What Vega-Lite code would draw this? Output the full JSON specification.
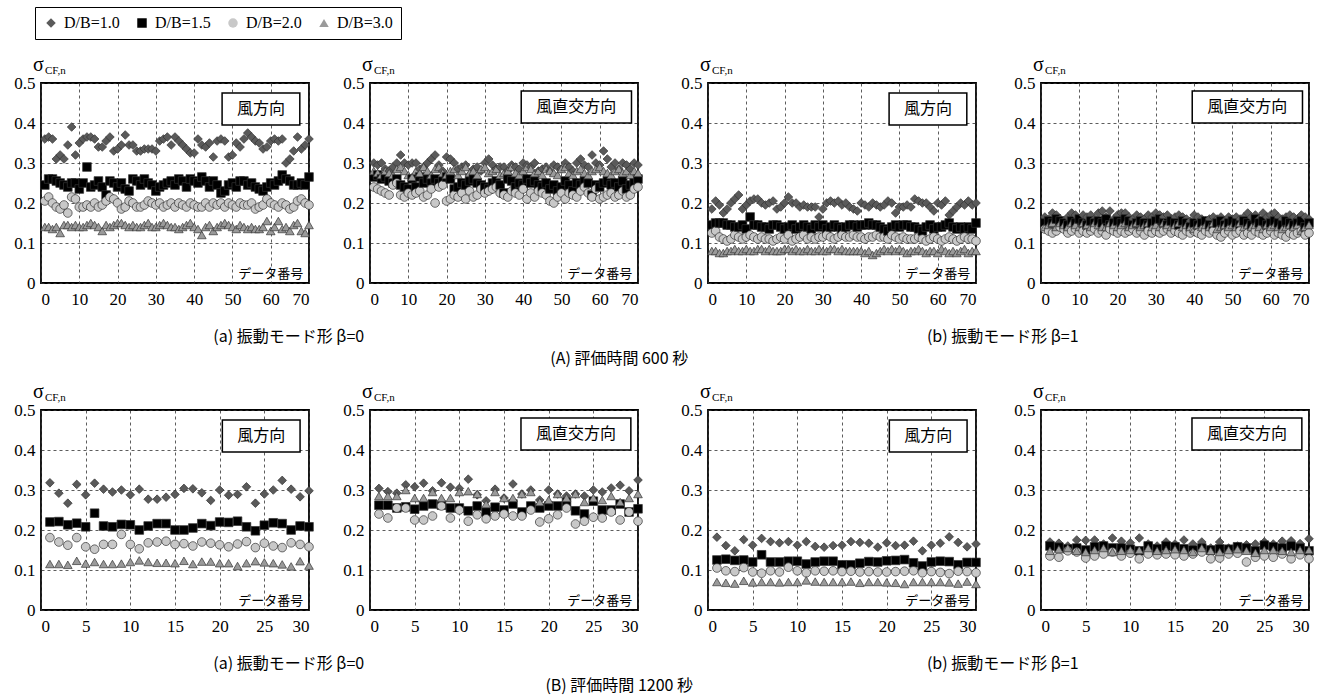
{
"$schema":"https://vega.github.io/schema/vega-lite/v6.json",
"padding":{"left":12,"top":6,"right":5,"bottom":2},
"background":"white",
"datasets":{
"A1":[
{"x":1,"a":0.36,"b":0.245,"c":0.205,"d":0.14},{"x":2,"a":0.365,"b":0.26,"c":0.215,"d":0.14},{"x":3,"a":0.36,"b":0.26,"c":0.2,"d":0.135},{"x":4,"a":0.31,"b":0.255,"c":0.19,"d":0.14},{"x":5,"a":0.32,"b":0.25,"c":0.185,"d":0.125},{"x":6,"a":0.31,"b":0.245,"c":0.195,"d":0.145},{"x":7,"a":0.345,"b":0.24,"c":0.175,"d":0.145},{"x":8,"a":0.39,"b":0.25,"c":0.215,"d":0.14},{"x":9,"a":0.32,"b":0.25,"c":0.21,"d":0.145},{"x":10,"a":0.35,"b":0.235,"c":0.19,"d":0.14},
{"x":11,"a":0.36,"b":0.25,"c":0.19,"d":0.14},{"x":12,"a":0.365,"b":0.29,"c":0.195,"d":0.145},{"x":13,"a":0.365,"b":0.24,"c":0.19,"d":0.15},{"x":14,"a":0.36,"b":0.245,"c":0.2,"d":0.145},{"x":15,"a":0.34,"b":0.255,"c":0.19,"d":0.14},{"x":16,"a":0.34,"b":0.24,"c":0.195,"d":0.13},{"x":17,"a":0.355,"b":0.22,"c":0.205,"d":0.145},{"x":18,"a":0.365,"b":0.255,"c":0.215,"d":0.14},{"x":19,"a":0.33,"b":0.25,"c":0.21,"d":0.145},{"x":20,"a":0.335,"b":0.24,"c":0.2,"d":0.15},
{"x":21,"a":0.345,"b":0.25,"c":0.185,"d":0.15},{"x":22,"a":0.37,"b":0.235,"c":0.19,"d":0.145},{"x":23,"a":0.345,"b":0.23,"c":0.205,"d":0.14},{"x":24,"a":0.345,"b":0.26,"c":0.2,"d":0.145},{"x":25,"a":0.33,"b":0.255,"c":0.19,"d":0.14},{"x":26,"a":0.33,"b":0.245,"c":0.19,"d":0.14},{"x":27,"a":0.335,"b":0.26,"c":0.195,"d":0.145},{"x":28,"a":0.335,"b":0.25,"c":0.205,"d":0.15},{"x":29,"a":0.335,"b":0.245,"c":0.2,"d":0.14},{"x":30,"a":0.33,"b":0.23,"c":0.195,"d":0.14},
{"x":31,"a":0.355,"b":0.24,"c":0.2,"d":0.145},{"x":32,"a":0.36,"b":0.245,"c":0.19,"d":0.15},{"x":33,"a":0.365,"b":0.25,"c":0.195,"d":0.145},{"x":34,"a":0.345,"b":0.255,"c":0.2,"d":0.14},{"x":35,"a":0.365,"b":0.245,"c":0.19,"d":0.14},{"x":36,"a":0.355,"b":0.26,"c":0.2,"d":0.135},{"x":37,"a":0.345,"b":0.255,"c":0.195,"d":0.14},{"x":38,"a":0.335,"b":0.24,"c":0.19,"d":0.145},{"x":39,"a":0.325,"b":0.26,"c":0.2,"d":0.15},{"x":40,"a":0.325,"b":0.255,"c":0.195,"d":0.14},
{"x":41,"a":0.36,"b":0.25,"c":0.19,"d":0.135},{"x":42,"a":0.345,"b":0.265,"c":0.19,"d":0.12},{"x":43,"a":0.34,"b":0.255,"c":0.2,"d":0.14},{"x":44,"a":0.35,"b":0.24,"c":0.19,"d":0.145},{"x":45,"a":0.315,"b":0.255,"c":0.2,"d":0.13},{"x":46,"a":0.355,"b":0.245,"c":0.195,"d":0.14},{"x":47,"a":0.36,"b":0.225,"c":0.2,"d":0.145},{"x":48,"a":0.355,"b":0.23,"c":0.19,"d":0.15},{"x":49,"a":0.315,"b":0.245,"c":0.2,"d":0.145},{"x":50,"a":0.32,"b":0.25,"c":0.195,"d":0.14},
{"x":51,"a":0.35,"b":0.24,"c":0.19,"d":0.135},{"x":52,"a":0.34,"b":0.255,"c":0.2,"d":0.145},{"x":53,"a":0.36,"b":0.255,"c":0.195,"d":0.14},{"x":54,"a":0.375,"b":0.245,"c":0.195,"d":0.135},{"x":55,"a":0.365,"b":0.25,"c":0.2,"d":0.14},{"x":56,"a":0.355,"b":0.24,"c":0.185,"d":0.135},{"x":57,"a":0.35,"b":0.235,"c":0.19,"d":0.135},{"x":58,"a":0.335,"b":0.23,"c":0.195,"d":0.14},{"x":59,"a":0.34,"b":0.24,"c":0.21,"d":0.155},{"x":60,"a":0.355,"b":0.25,"c":0.2,"d":0.13},
{"x":61,"a":0.36,"b":0.245,"c":0.195,"d":0.14},{"x":62,"a":0.355,"b":0.255,"c":0.19,"d":0.155},{"x":63,"a":0.36,"b":0.27,"c":0.2,"d":0.135},{"x":64,"a":0.3,"b":0.26,"c":0.195,"d":0.14},{"x":65,"a":0.31,"b":0.255,"c":0.185,"d":0.13},{"x":66,"a":0.33,"b":0.245,"c":0.19,"d":0.145},{"x":67,"a":0.365,"b":0.245,"c":0.205,"d":0.15},{"x":68,"a":0.335,"b":0.25,"c":0.21,"d":0.13},{"x":69,"a":0.345,"b":0.245,"c":0.2,"d":0.125},{"x":70,"a":0.36,"b":0.265,"c":0.195,"d":0.145}
],
"A2":[
{"x":1,"a":0.3,"b":0.265,"c":0.24,"d":0.28},{"x":2,"a":0.295,"b":0.27,"c":0.235,"d":0.275},{"x":3,"a":0.3,"b":0.26,"c":0.23,"d":0.27},{"x":4,"a":0.285,"b":0.265,"c":0.225,"d":0.28},{"x":5,"a":0.28,"b":0.255,"c":0.22,"d":0.275},{"x":6,"a":0.29,"b":0.25,"c":0.245,"d":0.27},{"x":7,"a":0.3,"b":0.26,"c":0.25,"d":0.285},{"x":8,"a":0.32,"b":0.245,"c":0.22,"d":0.29},{"x":9,"a":0.3,"b":0.24,"c":0.215,"d":0.28},{"x":10,"a":0.295,"b":0.235,"c":0.225,"d":0.27},
{"x":11,"a":0.3,"b":0.26,"c":0.22,"d":0.265},{"x":12,"a":0.3,"b":0.24,"c":0.225,"d":0.28},{"x":13,"a":0.285,"b":0.265,"c":0.23,"d":0.275},{"x":14,"a":0.29,"b":0.25,"c":0.215,"d":0.29},{"x":15,"a":0.3,"b":0.26,"c":0.22,"d":0.28},{"x":16,"a":0.31,"b":0.255,"c":0.235,"d":0.27},{"x":17,"a":0.32,"b":0.26,"c":0.2,"d":0.285},{"x":18,"a":0.295,"b":0.25,"c":0.24,"d":0.29},{"x":19,"a":0.28,"b":0.255,"c":0.245,"d":0.275},{"x":20,"a":0.315,"b":0.265,"c":0.205,"d":0.27},
{"x":21,"a":0.31,"b":0.26,"c":0.21,"d":0.28},{"x":22,"a":0.3,"b":0.235,"c":0.22,"d":0.285},{"x":23,"a":0.285,"b":0.24,"c":0.215,"d":0.27},{"x":24,"a":0.29,"b":0.25,"c":0.225,"d":0.28},{"x":25,"a":0.295,"b":0.245,"c":0.21,"d":0.29},{"x":26,"a":0.27,"b":0.255,"c":0.23,"d":0.275},{"x":27,"a":0.285,"b":0.26,"c":0.215,"d":0.28},{"x":28,"a":0.29,"b":0.25,"c":0.22,"d":0.27},{"x":29,"a":0.28,"b":0.245,"c":0.235,"d":0.285},{"x":30,"a":0.3,"b":0.24,"c":0.225,"d":0.29},
{"x":31,"a":0.31,"b":0.235,"c":0.23,"d":0.275},{"x":32,"a":0.295,"b":0.25,"c":0.235,"d":0.28},{"x":33,"a":0.285,"b":0.255,"c":0.24,"d":0.285},{"x":34,"a":0.29,"b":0.245,"c":0.225,"d":0.27},{"x":35,"a":0.29,"b":0.225,"c":0.22,"d":0.275},{"x":36,"a":0.28,"b":0.26,"c":0.215,"d":0.28},{"x":37,"a":0.295,"b":0.255,"c":0.23,"d":0.29},{"x":38,"a":0.29,"b":0.24,"c":0.225,"d":0.275},{"x":39,"a":0.285,"b":0.25,"c":0.22,"d":0.27},{"x":40,"a":0.3,"b":0.245,"c":0.235,"d":0.28},
{"x":41,"a":0.295,"b":0.26,"c":0.21,"d":0.29},{"x":42,"a":0.29,"b":0.25,"c":0.225,"d":0.285},{"x":43,"a":0.3,"b":0.255,"c":0.215,"d":0.275},{"x":44,"a":0.28,"b":0.245,"c":0.23,"d":0.28},{"x":45,"a":0.285,"b":0.24,"c":0.225,"d":0.27},{"x":46,"a":0.29,"b":0.25,"c":0.22,"d":0.285},{"x":47,"a":0.28,"b":0.235,"c":0.205,"d":0.28},{"x":48,"a":0.295,"b":0.245,"c":0.2,"d":0.275},{"x":49,"a":0.29,"b":0.23,"c":0.215,"d":0.27},{"x":50,"a":0.285,"b":0.24,"c":0.225,"d":0.285},
{"x":51,"a":0.3,"b":0.255,"c":0.21,"d":0.29},{"x":52,"a":0.29,"b":0.245,"c":0.225,"d":0.275},{"x":53,"a":0.28,"b":0.23,"c":0.22,"d":0.27},{"x":54,"a":0.3,"b":0.25,"c":0.215,"d":0.28},{"x":55,"a":0.31,"b":0.245,"c":0.23,"d":0.285},{"x":56,"a":0.295,"b":0.255,"c":0.24,"d":0.275},{"x":57,"a":0.29,"b":0.25,"c":0.225,"d":0.27},{"x":58,"a":0.32,"b":0.22,"c":0.215,"d":0.28},{"x":59,"a":0.3,"b":0.245,"c":0.235,"d":0.285},{"x":60,"a":0.295,"b":0.24,"c":0.21,"d":0.29},
{"x":61,"a":0.33,"b":0.25,"c":0.215,"d":0.28},{"x":62,"a":0.31,"b":0.255,"c":0.22,"d":0.275},{"x":63,"a":0.29,"b":0.245,"c":0.225,"d":0.27},{"x":64,"a":0.3,"b":0.25,"c":0.215,"d":0.28},{"x":65,"a":0.285,"b":0.24,"c":0.22,"d":0.285},{"x":66,"a":0.3,"b":0.255,"c":0.23,"d":0.275},{"x":67,"a":0.295,"b":0.235,"c":0.215,"d":0.28},{"x":68,"a":0.285,"b":0.245,"c":0.22,"d":0.27},{"x":69,"a":0.3,"b":0.25,"c":0.235,"d":0.28},{"x":70,"a":0.295,"b":0.26,"c":0.24,"d":0.275}
],
"A3":[
{"x":1,"a":0.185,"b":0.145,"c":0.125,"d":0.08},{"x":2,"a":0.205,"b":0.15,"c":0.13,"d":0.08},{"x":3,"a":0.195,"b":0.15,"c":0.115,"d":0.075},{"x":4,"a":0.175,"b":0.15,"c":0.11,"d":0.075},{"x":5,"a":0.185,"b":0.145,"c":0.105,"d":0.08},{"x":6,"a":0.2,"b":0.145,"c":0.11,"d":0.08},{"x":7,"a":0.21,"b":0.14,"c":0.12,"d":0.085},{"x":8,"a":0.22,"b":0.14,"c":0.115,"d":0.08},{"x":9,"a":0.185,"b":0.145,"c":0.11,"d":0.08},{"x":10,"a":0.195,"b":0.135,"c":0.115,"d":0.085},
{"x":11,"a":0.205,"b":0.165,"c":0.12,"d":0.08},{"x":12,"a":0.21,"b":0.145,"c":0.115,"d":0.08},{"x":13,"a":0.21,"b":0.145,"c":0.11,"d":0.085},{"x":14,"a":0.2,"b":0.14,"c":0.115,"d":0.085},{"x":15,"a":0.195,"b":0.14,"c":0.11,"d":0.08},{"x":16,"a":0.2,"b":0.135,"c":0.11,"d":0.085},{"x":17,"a":0.205,"b":0.145,"c":0.105,"d":0.08},{"x":18,"a":0.185,"b":0.145,"c":0.11,"d":0.08},{"x":19,"a":0.19,"b":0.14,"c":0.115,"d":0.08},{"x":20,"a":0.2,"b":0.135,"c":0.11,"d":0.085},
{"x":21,"a":0.215,"b":0.14,"c":0.12,"d":0.085},{"x":22,"a":0.2,"b":0.145,"c":0.105,"d":0.08},{"x":23,"a":0.2,"b":0.135,"c":0.11,"d":0.085},{"x":24,"a":0.19,"b":0.14,"c":0.115,"d":0.08},{"x":25,"a":0.195,"b":0.145,"c":0.12,"d":0.08},{"x":26,"a":0.19,"b":0.14,"c":0.11,"d":0.085},{"x":27,"a":0.19,"b":0.135,"c":0.115,"d":0.08},{"x":28,"a":0.19,"b":0.145,"c":0.11,"d":0.08},{"x":29,"a":0.165,"b":0.14,"c":0.115,"d":0.085},{"x":30,"a":0.185,"b":0.145,"c":0.115,"d":0.08},
{"x":31,"a":0.2,"b":0.135,"c":0.12,"d":0.08},{"x":32,"a":0.205,"b":0.14,"c":0.115,"d":0.085},{"x":33,"a":0.2,"b":0.145,"c":0.11,"d":0.085},{"x":34,"a":0.205,"b":0.14,"c":0.115,"d":0.08},{"x":35,"a":0.195,"b":0.135,"c":0.12,"d":0.085},{"x":36,"a":0.2,"b":0.14,"c":0.115,"d":0.08},{"x":37,"a":0.19,"b":0.145,"c":0.115,"d":0.08},{"x":38,"a":0.185,"b":0.145,"c":0.12,"d":0.08},{"x":39,"a":0.18,"b":0.14,"c":0.115,"d":0.08},{"x":40,"a":0.2,"b":0.145,"c":0.115,"d":0.08},
{"x":41,"a":0.195,"b":0.145,"c":0.11,"d":0.075},{"x":42,"a":0.19,"b":0.15,"c":0.115,"d":0.08},{"x":43,"a":0.2,"b":0.145,"c":0.115,"d":0.07},{"x":44,"a":0.195,"b":0.145,"c":0.12,"d":0.075},{"x":45,"a":0.19,"b":0.14,"c":0.115,"d":0.08},{"x":46,"a":0.195,"b":0.135,"c":0.115,"d":0.085},{"x":47,"a":0.205,"b":0.13,"c":0.11,"d":0.08},{"x":48,"a":0.2,"b":0.14,"c":0.12,"d":0.085},{"x":49,"a":0.175,"b":0.145,"c":0.115,"d":0.08},{"x":50,"a":0.19,"b":0.14,"c":0.11,"d":0.085},
{"x":51,"a":0.19,"b":0.145,"c":0.115,"d":0.08},{"x":52,"a":0.195,"b":0.145,"c":0.11,"d":0.075},{"x":53,"a":0.19,"b":0.14,"c":0.11,"d":0.08},{"x":54,"a":0.21,"b":0.14,"c":0.11,"d":0.08},{"x":55,"a":0.205,"b":0.135,"c":0.115,"d":0.085},{"x":56,"a":0.2,"b":0.13,"c":0.11,"d":0.08},{"x":57,"a":0.2,"b":0.14,"c":0.105,"d":0.075},{"x":58,"a":0.19,"b":0.145,"c":0.11,"d":0.08},{"x":59,"a":0.18,"b":0.135,"c":0.115,"d":0.08},{"x":60,"a":0.2,"b":0.14,"c":0.11,"d":0.075},
{"x":61,"a":0.195,"b":0.14,"c":0.105,"d":0.085},{"x":62,"a":0.205,"b":0.145,"c":0.11,"d":0.08},{"x":63,"a":0.17,"b":0.15,"c":0.115,"d":0.075},{"x":64,"a":0.18,"b":0.14,"c":0.11,"d":0.08},{"x":65,"a":0.19,"b":0.135,"c":0.105,"d":0.075},{"x":66,"a":0.2,"b":0.14,"c":0.11,"d":0.08},{"x":67,"a":0.195,"b":0.135,"c":0.115,"d":0.085},{"x":68,"a":0.205,"b":0.14,"c":0.11,"d":0.075},{"x":69,"a":0.195,"b":0.135,"c":0.11,"d":0.08},{"x":70,"a":0.2,"b":0.15,"c":0.105,"d":0.08}
],
"A4":[
{"x":1,"a":0.165,"b":0.15,"c":0.135,"d":0.14},{"x":2,"a":0.16,"b":0.155,"c":0.13,"d":0.145},{"x":3,"a":0.175,"b":0.15,"c":0.125,"d":0.15},{"x":4,"a":0.17,"b":0.16,"c":0.13,"d":0.14},{"x":5,"a":0.16,"b":0.155,"c":0.14,"d":0.15},{"x":6,"a":0.155,"b":0.15,"c":0.135,"d":0.145},{"x":7,"a":0.165,"b":0.145,"c":0.125,"d":0.14},{"x":8,"a":0.175,"b":0.155,"c":0.13,"d":0.15},{"x":9,"a":0.17,"b":0.15,"c":0.135,"d":0.145},{"x":10,"a":0.16,"b":0.16,"c":0.125,"d":0.14},
{"x":11,"a":0.17,"b":0.15,"c":0.13,"d":0.15},{"x":12,"a":0.165,"b":0.145,"c":0.125,"d":0.145},{"x":13,"a":0.17,"b":0.155,"c":0.13,"d":0.14},{"x":14,"a":0.16,"b":0.15,"c":0.135,"d":0.15},{"x":15,"a":0.175,"b":0.155,"c":0.125,"d":0.145},{"x":16,"a":0.18,"b":0.15,"c":0.13,"d":0.14},{"x":17,"a":0.165,"b":0.16,"c":0.12,"d":0.14},{"x":18,"a":0.18,"b":0.145,"c":0.135,"d":0.15},{"x":19,"a":0.16,"b":0.15,"c":0.13,"d":0.145},{"x":20,"a":0.17,"b":0.155,"c":0.125,"d":0.14},
{"x":21,"a":0.175,"b":0.15,"c":0.13,"d":0.145},{"x":22,"a":0.175,"b":0.16,"c":0.125,"d":0.15},{"x":23,"a":0.165,"b":0.155,"c":0.13,"d":0.14},{"x":24,"a":0.16,"b":0.145,"c":0.135,"d":0.145},{"x":25,"a":0.17,"b":0.15,"c":0.125,"d":0.15},{"x":26,"a":0.165,"b":0.155,"c":0.13,"d":0.14},{"x":27,"a":0.16,"b":0.15,"c":0.12,"d":0.145},{"x":28,"a":0.17,"b":0.145,"c":0.13,"d":0.15},{"x":29,"a":0.165,"b":0.15,"c":0.125,"d":0.14},{"x":30,"a":0.175,"b":0.155,"c":0.13,"d":0.145},
{"x":31,"a":0.17,"b":0.16,"c":0.125,"d":0.14},{"x":32,"a":0.165,"b":0.15,"c":0.13,"d":0.15},{"x":33,"a":0.17,"b":0.145,"c":0.135,"d":0.145},{"x":34,"a":0.16,"b":0.155,"c":0.125,"d":0.14},{"x":35,"a":0.165,"b":0.15,"c":0.13,"d":0.145},{"x":36,"a":0.17,"b":0.145,"c":0.125,"d":0.15},{"x":37,"a":0.165,"b":0.155,"c":0.12,"d":0.14},{"x":38,"a":0.16,"b":0.15,"c":0.13,"d":0.145},{"x":39,"a":0.155,"b":0.14,"c":0.125,"d":0.14},{"x":40,"a":0.17,"b":0.15,"c":0.13,"d":0.135},
{"x":41,"a":0.165,"b":0.145,"c":0.125,"d":0.145},{"x":42,"a":0.16,"b":0.15,"c":0.12,"d":0.14},{"x":43,"a":0.155,"b":0.155,"c":0.13,"d":0.145},{"x":44,"a":0.16,"b":0.145,"c":0.125,"d":0.14},{"x":45,"a":0.165,"b":0.14,"c":0.13,"d":0.15},{"x":46,"a":0.16,"b":0.15,"c":0.12,"d":0.135},{"x":47,"a":0.165,"b":0.155,"c":0.115,"d":0.14},{"x":48,"a":0.155,"b":0.145,"c":0.125,"d":0.145},{"x":49,"a":0.165,"b":0.15,"c":0.13,"d":0.14},{"x":50,"a":0.16,"b":0.155,"c":0.12,"d":0.145},
{"x":51,"a":0.165,"b":0.15,"c":0.125,"d":0.14},{"x":52,"a":0.16,"b":0.145,"c":0.13,"d":0.15},{"x":53,"a":0.165,"b":0.155,"c":0.12,"d":0.14},{"x":54,"a":0.175,"b":0.15,"c":0.125,"d":0.145},{"x":55,"a":0.165,"b":0.145,"c":0.12,"d":0.14},{"x":56,"a":0.17,"b":0.16,"c":0.13,"d":0.145},{"x":57,"a":0.16,"b":0.15,"c":0.125,"d":0.14},{"x":58,"a":0.175,"b":0.155,"c":0.12,"d":0.135},{"x":59,"a":0.165,"b":0.145,"c":0.125,"d":0.145},{"x":60,"a":0.17,"b":0.15,"c":0.13,"d":0.14},
{"x":61,"a":0.175,"b":0.155,"c":0.12,"d":0.145},{"x":62,"a":0.165,"b":0.15,"c":0.125,"d":0.14},{"x":63,"a":0.16,"b":0.145,"c":0.12,"d":0.135},{"x":64,"a":0.165,"b":0.155,"c":0.115,"d":0.14},{"x":65,"a":0.17,"b":0.15,"c":0.125,"d":0.145},{"x":66,"a":0.165,"b":0.145,"c":0.12,"d":0.14},{"x":67,"a":0.16,"b":0.15,"c":0.125,"d":0.145},{"x":68,"a":0.17,"b":0.155,"c":0.13,"d":0.13},{"x":69,"a":0.165,"b":0.14,"c":0.12,"d":0.14},{"x":70,"a":0.16,"b":0.15,"c":0.125,"d":0.145}
],
"B1":[
{"x":1,"a":0.318,"b":0.22,"c":0.181,"d":0.115},{"x":2,"a":0.292,"b":0.221,"c":0.17,"d":0.115},{"x":3,"a":0.267,"b":0.213,"c":0.162,"d":0.113},{"x":4,"a":0.314,"b":0.217,"c":0.181,"d":0.123},{"x":5,"a":0.288,"b":0.208,"c":0.158,"d":0.116},{"x":6,"a":0.317,"b":0.242,"c":0.152,"d":0.12},{"x":7,"a":0.302,"b":0.21,"c":0.164,"d":0.115},{"x":8,"a":0.295,"b":0.208,"c":0.164,"d":0.115},{"x":9,"a":0.3,"b":0.214,"c":0.189,"d":0.116},{"x":10,"a":0.288,"b":0.213,"c":0.164,"d":0.12},
{"x":11,"a":0.302,"b":0.2,"c":0.153,"d":0.124},{"x":12,"a":0.277,"b":0.21,"c":0.168,"d":0.12},{"x":13,"a":0.277,"b":0.216,"c":0.17,"d":0.118},{"x":14,"a":0.282,"b":0.216,"c":0.172,"d":0.118},{"x":15,"a":0.289,"b":0.2,"c":0.164,"d":0.117},{"x":16,"a":0.304,"b":0.2,"c":0.166,"d":0.123},{"x":17,"a":0.303,"b":0.205,"c":0.16,"d":0.115},{"x":18,"a":0.293,"b":0.216,"c":0.17,"d":0.121},{"x":19,"a":0.274,"b":0.211,"c":0.167,"d":0.121},{"x":20,"a":0.3,"b":0.22,"c":0.163,"d":0.117},
{"x":21,"a":0.287,"b":0.219,"c":0.158,"d":0.117},{"x":22,"a":0.289,"b":0.222,"c":0.165,"d":0.11},{"x":23,"a":0.308,"b":0.208,"c":0.171,"d":0.117},{"x":24,"a":0.267,"b":0.198,"c":0.156,"d":0.122},{"x":25,"a":0.29,"b":0.212,"c":0.167,"d":0.119},{"x":26,"a":0.3,"b":0.218,"c":0.16,"d":0.117},{"x":27,"a":0.324,"b":0.216,"c":0.156,"d":0.114},{"x":28,"a":0.302,"b":0.2,"c":0.168,"d":0.109},{"x":29,"a":0.283,"b":0.21,"c":0.164,"d":0.122},{"x":30,"a":0.298,"b":0.208,"c":0.158,"d":0.111}
],
"B2":[
{"x":1,"a":0.304,"b":0.262,"c":0.24,"d":0.285},{"x":2,"a":0.296,"b":0.262,"c":0.23,"d":0.285},{"x":3,"a":0.292,"b":0.255,"c":0.255,"d":0.285},{"x":4,"a":0.313,"b":0.258,"c":0.255,"d":0.3},{"x":5,"a":0.308,"b":0.252,"c":0.225,"d":0.28},{"x":6,"a":0.317,"b":0.26,"c":0.225,"d":0.28},{"x":7,"a":0.298,"b":0.265,"c":0.235,"d":0.295},{"x":8,"a":0.318,"b":0.262,"c":0.26,"d":0.28},{"x":9,"a":0.307,"b":0.255,"c":0.23,"d":0.28},{"x":10,"a":0.304,"b":0.255,"c":0.25,"d":0.295},
{"x":11,"a":0.327,"b":0.248,"c":0.222,"d":0.297},{"x":12,"a":0.288,"b":0.26,"c":0.238,"d":0.29},{"x":13,"a":0.273,"b":0.245,"c":0.228,"d":0.265},{"x":14,"a":0.302,"b":0.257,"c":0.235,"d":0.295},{"x":15,"a":0.28,"b":0.25,"c":0.24,"d":0.28},{"x":16,"a":0.315,"b":0.265,"c":0.235,"d":0.28},{"x":17,"a":0.29,"b":0.245,"c":0.235,"d":0.29},{"x":18,"a":0.3,"b":0.26,"c":0.25,"d":0.295},{"x":19,"a":0.275,"b":0.255,"c":0.22,"d":0.27},{"x":20,"a":0.3,"b":0.26,"c":0.228,"d":0.275},
{"x":21,"a":0.29,"b":0.26,"c":0.238,"d":0.29},{"x":22,"a":0.285,"b":0.27,"c":0.255,"d":0.28},{"x":23,"a":0.29,"b":0.248,"c":0.215,"d":0.29},{"x":24,"a":0.285,"b":0.24,"c":0.222,"d":0.27},{"x":25,"a":0.3,"b":0.272,"c":0.232,"d":0.28},{"x":26,"a":0.295,"b":0.25,"c":0.23,"d":0.275},{"x":27,"a":0.305,"b":0.25,"c":0.245,"d":0.285},{"x":28,"a":0.312,"b":0.265,"c":0.225,"d":0.27},{"x":29,"a":0.298,"b":0.245,"c":0.245,"d":0.28},{"x":30,"a":0.325,"b":0.253,"c":0.222,"d":0.29}
],
"B3":[
{"x":1,"a":0.182,"b":0.125,"c":0.105,"d":0.07},{"x":2,"a":0.161,"b":0.127,"c":0.098,"d":0.068},{"x":3,"a":0.148,"b":0.124,"c":0.096,"d":0.066},{"x":4,"a":0.176,"b":0.125,"c":0.106,"d":0.073},{"x":5,"a":0.162,"b":0.12,"c":0.095,"d":0.069},{"x":6,"a":0.179,"b":0.138,"c":0.092,"d":0.07},{"x":7,"a":0.171,"b":0.12,"c":0.098,"d":0.07},{"x":8,"a":0.168,"b":0.12,"c":0.095,"d":0.069},{"x":9,"a":0.171,"b":0.122,"c":0.107,"d":0.07},{"x":10,"a":0.162,"b":0.122,"c":0.098,"d":0.07},
{"x":11,"a":0.171,"b":0.115,"c":0.093,"d":0.074},{"x":12,"a":0.159,"b":0.12,"c":0.098,"d":0.071},{"x":13,"a":0.157,"b":0.122,"c":0.097,"d":0.07},{"x":14,"a":0.161,"b":0.122,"c":0.098,"d":0.07},{"x":15,"a":0.162,"b":0.113,"c":0.096,"d":0.07},{"x":16,"a":0.171,"b":0.113,"c":0.097,"d":0.071},{"x":17,"a":0.169,"b":0.117,"c":0.095,"d":0.068},{"x":18,"a":0.167,"b":0.121,"c":0.096,"d":0.07},{"x":19,"a":0.157,"b":0.12,"c":0.095,"d":0.07},{"x":20,"a":0.168,"b":0.123,"c":0.095,"d":0.069},
{"x":21,"a":0.161,"b":0.124,"c":0.096,"d":0.068},{"x":22,"a":0.162,"b":0.126,"c":0.097,"d":0.065},{"x":23,"a":0.172,"b":0.118,"c":0.098,"d":0.07},{"x":24,"a":0.148,"b":0.11,"c":0.093,"d":0.07},{"x":25,"a":0.162,"b":0.12,"c":0.096,"d":0.07},{"x":26,"a":0.167,"b":0.122,"c":0.094,"d":0.07},{"x":27,"a":0.183,"b":0.121,"c":0.091,"d":0.069},{"x":28,"a":0.169,"b":0.113,"c":0.097,"d":0.066},{"x":29,"a":0.158,"b":0.119,"c":0.096,"d":0.071},{"x":30,"a":0.165,"b":0.119,"c":0.093,"d":0.065}
],
"B4":[
{"x":1,"a":0.17,"b":0.16,"c":0.135,"d":0.148},{"x":2,"a":0.167,"b":0.157,"c":0.132,"d":0.152},{"x":3,"a":0.16,"b":0.153,"c":0.148,"d":0.155},{"x":4,"a":0.175,"b":0.155,"c":0.145,"d":0.148},{"x":5,"a":0.174,"b":0.15,"c":0.13,"d":0.145},{"x":6,"a":0.175,"b":0.158,"c":0.135,"d":0.15},{"x":7,"a":0.165,"b":0.16,"c":0.14,"d":0.155},{"x":8,"a":0.18,"b":0.155,"c":0.145,"d":0.145},{"x":9,"a":0.172,"b":0.155,"c":0.135,"d":0.148},{"x":10,"a":0.168,"b":0.152,"c":0.142,"d":0.15},
{"x":11,"a":0.18,"b":0.148,"c":0.128,"d":0.15},{"x":12,"a":0.165,"b":0.16,"c":0.14,"d":0.155},{"x":13,"a":0.16,"b":0.153,"c":0.138,"d":0.148},{"x":14,"a":0.17,"b":0.16,"c":0.14,"d":0.15},{"x":15,"a":0.165,"b":0.158,"c":0.138,"d":0.152},{"x":16,"a":0.175,"b":0.153,"c":0.135,"d":0.15},{"x":17,"a":0.165,"b":0.15,"c":0.14,"d":0.145},{"x":18,"a":0.17,"b":0.155,"c":0.145,"d":0.155},{"x":19,"a":0.155,"b":0.15,"c":0.128,"d":0.148},{"x":20,"a":0.17,"b":0.153,"c":0.13,"d":0.145},
{"x":21,"a":0.155,"b":0.152,"c":0.14,"d":0.15},{"x":22,"a":0.16,"b":0.158,"c":0.142,"d":0.152},{"x":23,"a":0.163,"b":0.155,"c":0.12,"d":0.148},{"x":24,"a":0.165,"b":0.148,"c":0.132,"d":0.143},{"x":25,"a":0.17,"b":0.162,"c":0.135,"d":0.15},{"x":26,"a":0.165,"b":0.158,"c":0.132,"d":0.15},{"x":27,"a":0.172,"b":0.155,"c":0.14,"d":0.148},{"x":28,"a":0.173,"b":0.16,"c":0.128,"d":0.145},{"x":29,"a":0.166,"b":0.155,"c":0.138,"d":0.15},{"x":30,"a":0.178,"b":0.148,"c":0.128,"d":0.15}
]
},
"vconcat":[
{"hconcat":[
 {"hconcat":[
  {"width":268,"height":200,"data":{"name":"A1"},"layer":[
   {"transform":[{"fold":["a","b","c","d"],"as":["s","y"]}],"mark":{"type":"point","filled":true,"size":75,"stroke":"#333","strokeWidth":0.7,"opacity":1},"encoding":{"x":{"field":"x","type":"quantitative","scale":{"domain":[0,70],"nice":false},"axis":{"title":null,"values":[0,10,20,30,40,50,60,70]}},"y":{"field":"y","type":"quantitative","scale":{"domain":[0,0.5],"nice":false},"axis":{"title":null,"values":[0,0.1,0.2,0.3,0.4,0.5],"format":".1~f"}},"shape":{"field":"s","type":"nominal","legend":{"title":null,"labelExpr":"datum.label=='a'?'D/B=1.0':datum.label=='b'?'D/B=1.5':datum.label=='c'?'D/B=2.0':'D/B=3.0'"}},"fill":{"field":"s","type":"nominal","legend":{"title":null,"labelExpr":"datum.label=='a'?'D/B=1.0':datum.label=='b'?'D/B=1.5':datum.label=='c'?'D/B=2.0':'D/B=3.0'"}}}},
   {"data":{"values":[{}]},"mark":{"type":"rect","fill":"white","stroke":"black","strokeWidth":1.5},"encoding":{"x":{"datum":47.3,"type":"quantitative","axis":{"title":null,"values":[0,10,20,30,40,50,60,70]}},"x2":{"datum":67.6},"y":{"datum":0.475,"type":"quantitative","axis":{"title":null,"values":[0,0.1,0.2,0.3,0.4,0.5],"format":".1~f"}},"y2":{"datum":0.395}}},
   {"data":{"values":[{}]},"mark":{"type":"text","text":"風方向","font":"Noto Sans CJK JP","fontSize":16},"encoding":{"x":{"datum":57.45,"type":"quantitative","axis":{"title":null,"values":[0,10,20,30,40,50,60,70]}},"y":{"datum":0.435,"type":"quantitative","axis":{"title":null,"values":[0,0.1,0.2,0.3,0.4,0.5],"format":".1~f"}}}},
   {"data":{"values":[{}]},"mark":{"type":"text","text":"データ番号","font":"Noto Sans CJK JP","fontSize":13,"align":"right","baseline":"bottom","dy":-2},"encoding":{"x":{"datum":68.5,"type":"quantitative","axis":{"title":null,"values":[0,10,20,30,40,50,60,70]}},"y":{"datum":0,"type":"quantitative","axis":{"title":null,"values":[0,0.1,0.2,0.3,0.4,0.5],"format":".1~f"}}}},
   {"data":{"values":[{}]},"mark":{"type":"text","text":"σ","font":"Liberation Serif","fontSize":20,"align":"left","baseline":"alphabetic","dx":-8,"dy":-12},"encoding":{"x":{"datum":0,"type":"quantitative","axis":{"title":null,"values":[0,10,20,30,40,50,60,70]}},"y":{"datum":0.5,"type":"quantitative","axis":{"title":null,"values":[0,0.1,0.2,0.3,0.4,0.5],"format":".1~f"}}}},
   {"data":{"values":[{}]},"mark":{"type":"text","text":"CF,n","font":"Liberation Serif","fontSize":11,"align":"left","baseline":"alphabetic","dx":4,"dy":-9},"encoding":{"x":{"datum":0,"type":"quantitative","axis":{"title":null,"values":[0,10,20,30,40,50,60,70]}},"y":{"datum":0.5,"type":"quantitative","axis":{"title":null,"values":[0,0.1,0.2,0.3,0.4,0.5],"format":".1~f"}}}}
  ]},
  {"width":268,"height":200,"data":{"name":"A2"},"layer":[
   {"transform":[{"fold":["a","b","c","d"],"as":["s","y"]}],"mark":{"type":"point","filled":true,"size":75,"stroke":"#333","strokeWidth":0.7,"opacity":1},"encoding":{"x":{"field":"x","type":"quantitative","scale":{"domain":[0,70],"nice":false},"axis":{"title":null,"values":[0,10,20,30,40,50,60,70]}},"y":{"field":"y","type":"quantitative","scale":{"domain":[0,0.5],"nice":false},"axis":{"title":null,"values":[0,0.1,0.2,0.3,0.4,0.5],"format":".1~f"}},"shape":{"field":"s","type":"nominal","legend":{"title":null,"labelExpr":"datum.label=='a'?'D/B=1.0':datum.label=='b'?'D/B=1.5':datum.label=='c'?'D/B=2.0':'D/B=3.0'"}},"fill":{"field":"s","type":"nominal","legend":{"title":null,"labelExpr":"datum.label=='a'?'D/B=1.0':datum.label=='b'?'D/B=1.5':datum.label=='c'?'D/B=2.0':'D/B=3.0'"}}}},
   {"data":{"values":[{}]},"mark":{"type":"rect","fill":"white","stroke":"black","strokeWidth":1.5},"encoding":{"x":{"datum":39.5,"type":"quantitative","axis":{"title":null,"values":[0,10,20,30,40,50,60,70]}},"x2":{"datum":68.3},"y":{"datum":0.48,"type":"quantitative","axis":{"title":null,"values":[0,0.1,0.2,0.3,0.4,0.5],"format":".1~f"}},"y2":{"datum":0.4}}},
   {"data":{"values":[{}]},"mark":{"type":"text","text":"風直交方向","font":"Noto Sans CJK JP","fontSize":16},"encoding":{"x":{"datum":53.9,"type":"quantitative","axis":{"title":null,"values":[0,10,20,30,40,50,60,70]}},"y":{"datum":0.44,"type":"quantitative","axis":{"title":null,"values":[0,0.1,0.2,0.3,0.4,0.5],"format":".1~f"}}}},
   {"data":{"values":[{}]},"mark":{"type":"text","text":"データ番号","font":"Noto Sans CJK JP","fontSize":13,"align":"right","baseline":"bottom","dy":-2},"encoding":{"x":{"datum":68.5,"type":"quantitative","axis":{"title":null,"values":[0,10,20,30,40,50,60,70]}},"y":{"datum":0,"type":"quantitative","axis":{"title":null,"values":[0,0.1,0.2,0.3,0.4,0.5],"format":".1~f"}}}},
   {"data":{"values":[{}]},"mark":{"type":"text","text":"σ","font":"Liberation Serif","fontSize":20,"align":"left","baseline":"alphabetic","dx":-8,"dy":-12},"encoding":{"x":{"datum":0,"type":"quantitative","axis":{"title":null,"values":[0,10,20,30,40,50,60,70]}},"y":{"datum":0.5,"type":"quantitative","axis":{"title":null,"values":[0,0.1,0.2,0.3,0.4,0.5],"format":".1~f"}}}},
   {"data":{"values":[{}]},"mark":{"type":"text","text":"CF,n","font":"Liberation Serif","fontSize":11,"align":"left","baseline":"alphabetic","dx":4,"dy":-9},"encoding":{"x":{"datum":0,"type":"quantitative","axis":{"title":null,"values":[0,10,20,30,40,50,60,70]}},"y":{"datum":0.5,"type":"quantitative","axis":{"title":null,"values":[0,0.1,0.2,0.3,0.4,0.5],"format":".1~f"}}}}
  ]}
 ],"spacing":25,"title":{"text":"(a)  振動モード形 β=0","orient":"bottom","anchor":"middle","dx":-40,"offset":21}},
 {"hconcat":[
  {"width":268,"height":200,"data":{"name":"A3"},"layer":[
   {"transform":[{"fold":["a","b","c","d"],"as":["s","y"]}],"mark":{"type":"point","filled":true,"size":75,"stroke":"#333","strokeWidth":0.7,"opacity":1},"encoding":{"x":{"field":"x","type":"quantitative","scale":{"domain":[0,70],"nice":false},"axis":{"title":null,"values":[0,10,20,30,40,50,60,70]}},"y":{"field":"y","type":"quantitative","scale":{"domain":[0,0.5],"nice":false},"axis":{"title":null,"values":[0,0.1,0.2,0.3,0.4,0.5],"format":".1~f"}},"shape":{"field":"s","type":"nominal","legend":{"title":null,"labelExpr":"datum.label=='a'?'D/B=1.0':datum.label=='b'?'D/B=1.5':datum.label=='c'?'D/B=2.0':'D/B=3.0'"}},"fill":{"field":"s","type":"nominal","legend":{"title":null,"labelExpr":"datum.label=='a'?'D/B=1.0':datum.label=='b'?'D/B=1.5':datum.label=='c'?'D/B=2.0':'D/B=3.0'"}}}},
   {"data":{"values":[{}]},"mark":{"type":"rect","fill":"white","stroke":"black","strokeWidth":1.5},"encoding":{"x":{"datum":47.3,"type":"quantitative","axis":{"title":null,"values":[0,10,20,30,40,50,60,70]}},"x2":{"datum":67.6},"y":{"datum":0.475,"type":"quantitative","axis":{"title":null,"values":[0,0.1,0.2,0.3,0.4,0.5],"format":".1~f"}},"y2":{"datum":0.395}}},
   {"data":{"values":[{}]},"mark":{"type":"text","text":"風方向","font":"Noto Sans CJK JP","fontSize":16},"encoding":{"x":{"datum":57.45,"type":"quantitative","axis":{"title":null,"values":[0,10,20,30,40,50,60,70]}},"y":{"datum":0.435,"type":"quantitative","axis":{"title":null,"values":[0,0.1,0.2,0.3,0.4,0.5],"format":".1~f"}}}},
   {"data":{"values":[{}]},"mark":{"type":"text","text":"データ番号","font":"Noto Sans CJK JP","fontSize":13,"align":"right","baseline":"bottom","dy":-2},"encoding":{"x":{"datum":68.5,"type":"quantitative","axis":{"title":null,"values":[0,10,20,30,40,50,60,70]}},"y":{"datum":0,"type":"quantitative","axis":{"title":null,"values":[0,0.1,0.2,0.3,0.4,0.5],"format":".1~f"}}}},
   {"data":{"values":[{}]},"mark":{"type":"text","text":"σ","font":"Liberation Serif","fontSize":20,"align":"left","baseline":"alphabetic","dx":-8,"dy":-12},"encoding":{"x":{"datum":0,"type":"quantitative","axis":{"title":null,"values":[0,10,20,30,40,50,60,70]}},"y":{"datum":0.5,"type":"quantitative","axis":{"title":null,"values":[0,0.1,0.2,0.3,0.4,0.5],"format":".1~f"}}}},
   {"data":{"values":[{}]},"mark":{"type":"text","text":"CF,n","font":"Liberation Serif","fontSize":11,"align":"left","baseline":"alphabetic","dx":4,"dy":-9},"encoding":{"x":{"datum":0,"type":"quantitative","axis":{"title":null,"values":[0,10,20,30,40,50,60,70]}},"y":{"datum":0.5,"type":"quantitative","axis":{"title":null,"values":[0,0.1,0.2,0.3,0.4,0.5],"format":".1~f"}}}}
  ]},
  {"width":268,"height":200,"data":{"name":"A4"},"layer":[
   {"transform":[{"fold":["a","b","c","d"],"as":["s","y"]}],"mark":{"type":"point","filled":true,"size":75,"stroke":"#333","strokeWidth":0.7,"opacity":1},"encoding":{"x":{"field":"x","type":"quantitative","scale":{"domain":[0,70],"nice":false},"axis":{"title":null,"values":[0,10,20,30,40,50,60,70]}},"y":{"field":"y","type":"quantitative","scale":{"domain":[0,0.5],"nice":false},"axis":{"title":null,"values":[0,0.1,0.2,0.3,0.4,0.5],"format":".1~f"}},"shape":{"field":"s","type":"nominal","legend":{"title":null,"labelExpr":"datum.label=='a'?'D/B=1.0':datum.label=='b'?'D/B=1.5':datum.label=='c'?'D/B=2.0':'D/B=3.0'"}},"fill":{"field":"s","type":"nominal","legend":{"title":null,"labelExpr":"datum.label=='a'?'D/B=1.0':datum.label=='b'?'D/B=1.5':datum.label=='c'?'D/B=2.0':'D/B=3.0'"}}}},
   {"data":{"values":[{}]},"mark":{"type":"rect","fill":"white","stroke":"black","strokeWidth":1.5},"encoding":{"x":{"datum":39.5,"type":"quantitative","axis":{"title":null,"values":[0,10,20,30,40,50,60,70]}},"x2":{"datum":68.3},"y":{"datum":0.48,"type":"quantitative","axis":{"title":null,"values":[0,0.1,0.2,0.3,0.4,0.5],"format":".1~f"}},"y2":{"datum":0.4}}},
   {"data":{"values":[{}]},"mark":{"type":"text","text":"風直交方向","font":"Noto Sans CJK JP","fontSize":16},"encoding":{"x":{"datum":53.9,"type":"quantitative","axis":{"title":null,"values":[0,10,20,30,40,50,60,70]}},"y":{"datum":0.44,"type":"quantitative","axis":{"title":null,"values":[0,0.1,0.2,0.3,0.4,0.5],"format":".1~f"}}}},
   {"data":{"values":[{}]},"mark":{"type":"text","text":"データ番号","font":"Noto Sans CJK JP","fontSize":13,"align":"right","baseline":"bottom","dy":-2},"encoding":{"x":{"datum":68.5,"type":"quantitative","axis":{"title":null,"values":[0,10,20,30,40,50,60,70]}},"y":{"datum":0,"type":"quantitative","axis":{"title":null,"values":[0,0.1,0.2,0.3,0.4,0.5],"format":".1~f"}}}},
   {"data":{"values":[{}]},"mark":{"type":"text","text":"σ","font":"Liberation Serif","fontSize":20,"align":"left","baseline":"alphabetic","dx":-8,"dy":-12},"encoding":{"x":{"datum":0,"type":"quantitative","axis":{"title":null,"values":[0,10,20,30,40,50,60,70]}},"y":{"datum":0.5,"type":"quantitative","axis":{"title":null,"values":[0,0.1,0.2,0.3,0.4,0.5],"format":".1~f"}}}},
   {"data":{"values":[{}]},"mark":{"type":"text","text":"CF,n","font":"Liberation Serif","fontSize":11,"align":"left","baseline":"alphabetic","dx":4,"dy":-9},"encoding":{"x":{"datum":0,"type":"quantitative","axis":{"title":null,"values":[0,10,20,30,40,50,60,70]}},"y":{"datum":0.5,"type":"quantitative","axis":{"title":null,"values":[0,0.1,0.2,0.3,0.4,0.5],"format":".1~f"}}}}
  ]}
 ],"spacing":29,"title":{"text":"(b)  振動モード形 β=1","orient":"bottom","anchor":"middle","dx":5,"offset":21}}
],"spacing":34,"title":{"text":"(A)  評価時間 600 秒","orient":"bottom","anchor":"middle","dx":-45,"offset":6}},
{"hconcat":[
 {"hconcat":[
  {"width":268,"height":200,"data":{"name":"B1"},"layer":[
   {"transform":[{"fold":["a","b","c","d"],"as":["s","y"]}],"mark":{"type":"point","filled":true,"size":75,"stroke":"#333","strokeWidth":0.7,"opacity":1},"encoding":{"x":{"field":"x","type":"quantitative","scale":{"domain":[0,30],"nice":false},"axis":{"title":null,"values":[0,5,10,15,20,25,30]}},"y":{"field":"y","type":"quantitative","scale":{"domain":[0,0.5],"nice":false},"axis":{"title":null,"values":[0,0.1,0.2,0.3,0.4,0.5],"format":".1~f"}},"shape":{"field":"s","type":"nominal","legend":{"title":null,"labelExpr":"datum.label=='a'?'D/B=1.0':datum.label=='b'?'D/B=1.5':datum.label=='c'?'D/B=2.0':'D/B=3.0'"}},"fill":{"field":"s","type":"nominal","legend":{"title":null,"labelExpr":"datum.label=='a'?'D/B=1.0':datum.label=='b'?'D/B=1.5':datum.label=='c'?'D/B=2.0':'D/B=3.0'"}}}},
   {"data":{"values":[{}]},"mark":{"type":"rect","fill":"white","stroke":"black","strokeWidth":1.5},"encoding":{"x":{"datum":20.3,"type":"quantitative","axis":{"title":null,"values":[0,5,10,15,20,25,30]}},"x2":{"datum":29.0},"y":{"datum":0.475,"type":"quantitative","axis":{"title":null,"values":[0,0.1,0.2,0.3,0.4,0.5],"format":".1~f"}},"y2":{"datum":0.395}}},
   {"data":{"values":[{}]},"mark":{"type":"text","text":"風方向","font":"Noto Sans CJK JP","fontSize":16},"encoding":{"x":{"datum":24.65,"type":"quantitative","axis":{"title":null,"values":[0,5,10,15,20,25,30]}},"y":{"datum":0.435,"type":"quantitative","axis":{"title":null,"values":[0,0.1,0.2,0.3,0.4,0.5],"format":".1~f"}}}},
   {"data":{"values":[{}]},"mark":{"type":"text","text":"データ番号","font":"Noto Sans CJK JP","fontSize":13,"align":"right","baseline":"bottom","dy":-2},"encoding":{"x":{"datum":29.35,"type":"quantitative","axis":{"title":null,"values":[0,5,10,15,20,25,30]}},"y":{"datum":0,"type":"quantitative","axis":{"title":null,"values":[0,0.1,0.2,0.3,0.4,0.5],"format":".1~f"}}}},
   {"data":{"values":[{}]},"mark":{"type":"text","text":"σ","font":"Liberation Serif","fontSize":20,"align":"left","baseline":"alphabetic","dx":-8,"dy":-12},"encoding":{"x":{"datum":0,"type":"quantitative","axis":{"title":null,"values":[0,5,10,15,20,25,30]}},"y":{"datum":0.5,"type":"quantitative","axis":{"title":null,"values":[0,0.1,0.2,0.3,0.4,0.5],"format":".1~f"}}}},
   {"data":{"values":[{}]},"mark":{"type":"text","text":"CF,n","font":"Liberation Serif","fontSize":11,"align":"left","baseline":"alphabetic","dx":4,"dy":-9},"encoding":{"x":{"datum":0,"type":"quantitative","axis":{"title":null,"values":[0,5,10,15,20,25,30]}},"y":{"datum":0.5,"type":"quantitative","axis":{"title":null,"values":[0,0.1,0.2,0.3,0.4,0.5],"format":".1~f"}}}}
  ]},
  {"width":268,"height":200,"data":{"name":"B2"},"layer":[
   {"transform":[{"fold":["a","b","c","d"],"as":["s","y"]}],"mark":{"type":"point","filled":true,"size":75,"stroke":"#333","strokeWidth":0.7,"opacity":1},"encoding":{"x":{"field":"x","type":"quantitative","scale":{"domain":[0,30],"nice":false},"axis":{"title":null,"values":[0,5,10,15,20,25,30]}},"y":{"field":"y","type":"quantitative","scale":{"domain":[0,0.5],"nice":false},"axis":{"title":null,"values":[0,0.1,0.2,0.3,0.4,0.5],"format":".1~f"}},"shape":{"field":"s","type":"nominal","legend":{"title":null,"labelExpr":"datum.label=='a'?'D/B=1.0':datum.label=='b'?'D/B=1.5':datum.label=='c'?'D/B=2.0':'D/B=3.0'"}},"fill":{"field":"s","type":"nominal","legend":{"title":null,"labelExpr":"datum.label=='a'?'D/B=1.0':datum.label=='b'?'D/B=1.5':datum.label=='c'?'D/B=2.0':'D/B=3.0'"}}}},
   {"data":{"values":[{}]},"mark":{"type":"rect","fill":"white","stroke":"black","strokeWidth":1.5},"encoding":{"x":{"datum":16.9,"type":"quantitative","axis":{"title":null,"values":[0,5,10,15,20,25,30]}},"x2":{"datum":29.2},"y":{"datum":0.48,"type":"quantitative","axis":{"title":null,"values":[0,0.1,0.2,0.3,0.4,0.5],"format":".1~f"}},"y2":{"datum":0.4}}},
   {"data":{"values":[{}]},"mark":{"type":"text","text":"風直交方向","font":"Noto Sans CJK JP","fontSize":16},"encoding":{"x":{"datum":23.05,"type":"quantitative","axis":{"title":null,"values":[0,5,10,15,20,25,30]}},"y":{"datum":0.44,"type":"quantitative","axis":{"title":null,"values":[0,0.1,0.2,0.3,0.4,0.5],"format":".1~f"}}}},
   {"data":{"values":[{}]},"mark":{"type":"text","text":"データ番号","font":"Noto Sans CJK JP","fontSize":13,"align":"right","baseline":"bottom","dy":-2},"encoding":{"x":{"datum":29.35,"type":"quantitative","axis":{"title":null,"values":[0,5,10,15,20,25,30]}},"y":{"datum":0,"type":"quantitative","axis":{"title":null,"values":[0,0.1,0.2,0.3,0.4,0.5],"format":".1~f"}}}},
   {"data":{"values":[{}]},"mark":{"type":"text","text":"σ","font":"Liberation Serif","fontSize":20,"align":"left","baseline":"alphabetic","dx":-8,"dy":-12},"encoding":{"x":{"datum":0,"type":"quantitative","axis":{"title":null,"values":[0,5,10,15,20,25,30]}},"y":{"datum":0.5,"type":"quantitative","axis":{"title":null,"values":[0,0.1,0.2,0.3,0.4,0.5],"format":".1~f"}}}},
   {"data":{"values":[{}]},"mark":{"type":"text","text":"CF,n","font":"Liberation Serif","fontSize":11,"align":"left","baseline":"alphabetic","dx":4,"dy":-9},"encoding":{"x":{"datum":0,"type":"quantitative","axis":{"title":null,"values":[0,5,10,15,20,25,30]}},"y":{"datum":0.5,"type":"quantitative","axis":{"title":null,"values":[0,0.1,0.2,0.3,0.4,0.5],"format":".1~f"}}}}
  ]}
 ],"spacing":25,"title":{"text":"(a)  振動モード形 β=0","orient":"bottom","anchor":"middle","dx":-40,"offset":21}},
 {"hconcat":[
  {"width":268,"height":200,"data":{"name":"B3"},"layer":[
   {"transform":[{"fold":["a","b","c","d"],"as":["s","y"]}],"mark":{"type":"point","filled":true,"size":75,"stroke":"#333","strokeWidth":0.7,"opacity":1},"encoding":{"x":{"field":"x","type":"quantitative","scale":{"domain":[0,30],"nice":false},"axis":{"title":null,"values":[0,5,10,15,20,25,30]}},"y":{"field":"y","type":"quantitative","scale":{"domain":[0,0.5],"nice":false},"axis":{"title":null,"values":[0,0.1,0.2,0.3,0.4,0.5],"format":".1~f"}},"shape":{"field":"s","type":"nominal","legend":{"title":null,"labelExpr":"datum.label=='a'?'D/B=1.0':datum.label=='b'?'D/B=1.5':datum.label=='c'?'D/B=2.0':'D/B=3.0'"}},"fill":{"field":"s","type":"nominal","legend":{"title":null,"labelExpr":"datum.label=='a'?'D/B=1.0':datum.label=='b'?'D/B=1.5':datum.label=='c'?'D/B=2.0':'D/B=3.0'"}}}},
   {"data":{"values":[{}]},"mark":{"type":"rect","fill":"white","stroke":"black","strokeWidth":1.5},"encoding":{"x":{"datum":20.3,"type":"quantitative","axis":{"title":null,"values":[0,5,10,15,20,25,30]}},"x2":{"datum":29.0},"y":{"datum":0.475,"type":"quantitative","axis":{"title":null,"values":[0,0.1,0.2,0.3,0.4,0.5],"format":".1~f"}},"y2":{"datum":0.395}}},
   {"data":{"values":[{}]},"mark":{"type":"text","text":"風方向","font":"Noto Sans CJK JP","fontSize":16},"encoding":{"x":{"datum":24.65,"type":"quantitative","axis":{"title":null,"values":[0,5,10,15,20,25,30]}},"y":{"datum":0.435,"type":"quantitative","axis":{"title":null,"values":[0,0.1,0.2,0.3,0.4,0.5],"format":".1~f"}}}},
   {"data":{"values":[{}]},"mark":{"type":"text","text":"データ番号","font":"Noto Sans CJK JP","fontSize":13,"align":"right","baseline":"bottom","dy":-2},"encoding":{"x":{"datum":29.35,"type":"quantitative","axis":{"title":null,"values":[0,5,10,15,20,25,30]}},"y":{"datum":0,"type":"quantitative","axis":{"title":null,"values":[0,0.1,0.2,0.3,0.4,0.5],"format":".1~f"}}}},
   {"data":{"values":[{}]},"mark":{"type":"text","text":"σ","font":"Liberation Serif","fontSize":20,"align":"left","baseline":"alphabetic","dx":-8,"dy":-12},"encoding":{"x":{"datum":0,"type":"quantitative","axis":{"title":null,"values":[0,5,10,15,20,25,30]}},"y":{"datum":0.5,"type":"quantitative","axis":{"title":null,"values":[0,0.1,0.2,0.3,0.4,0.5],"format":".1~f"}}}},
   {"data":{"values":[{}]},"mark":{"type":"text","text":"CF,n","font":"Liberation Serif","fontSize":11,"align":"left","baseline":"alphabetic","dx":4,"dy":-9},"encoding":{"x":{"datum":0,"type":"quantitative","axis":{"title":null,"values":[0,5,10,15,20,25,30]}},"y":{"datum":0.5,"type":"quantitative","axis":{"title":null,"values":[0,0.1,0.2,0.3,0.4,0.5],"format":".1~f"}}}}
  ]},
  {"width":268,"height":200,"data":{"name":"B4"},"layer":[
   {"transform":[{"fold":["a","b","c","d"],"as":["s","y"]}],"mark":{"type":"point","filled":true,"size":75,"stroke":"#333","strokeWidth":0.7,"opacity":1},"encoding":{"x":{"field":"x","type":"quantitative","scale":{"domain":[0,30],"nice":false},"axis":{"title":null,"values":[0,5,10,15,20,25,30]}},"y":{"field":"y","type":"quantitative","scale":{"domain":[0,0.5],"nice":false},"axis":{"title":null,"values":[0,0.1,0.2,0.3,0.4,0.5],"format":".1~f"}},"shape":{"field":"s","type":"nominal","legend":{"title":null,"labelExpr":"datum.label=='a'?'D/B=1.0':datum.label=='b'?'D/B=1.5':datum.label=='c'?'D/B=2.0':'D/B=3.0'"}},"fill":{"field":"s","type":"nominal","legend":{"title":null,"labelExpr":"datum.label=='a'?'D/B=1.0':datum.label=='b'?'D/B=1.5':datum.label=='c'?'D/B=2.0':'D/B=3.0'"}}}},
   {"data":{"values":[{}]},"mark":{"type":"rect","fill":"white","stroke":"black","strokeWidth":1.5},"encoding":{"x":{"datum":16.9,"type":"quantitative","axis":{"title":null,"values":[0,5,10,15,20,25,30]}},"x2":{"datum":29.2},"y":{"datum":0.48,"type":"quantitative","axis":{"title":null,"values":[0,0.1,0.2,0.3,0.4,0.5],"format":".1~f"}},"y2":{"datum":0.4}}},
   {"data":{"values":[{}]},"mark":{"type":"text","text":"風直交方向","font":"Noto Sans CJK JP","fontSize":16},"encoding":{"x":{"datum":23.05,"type":"quantitative","axis":{"title":null,"values":[0,5,10,15,20,25,30]}},"y":{"datum":0.44,"type":"quantitative","axis":{"title":null,"values":[0,0.1,0.2,0.3,0.4,0.5],"format":".1~f"}}}},
   {"data":{"values":[{}]},"mark":{"type":"text","text":"データ番号","font":"Noto Sans CJK JP","fontSize":13,"align":"right","baseline":"bottom","dy":-2},"encoding":{"x":{"datum":29.35,"type":"quantitative","axis":{"title":null,"values":[0,5,10,15,20,25,30]}},"y":{"datum":0,"type":"quantitative","axis":{"title":null,"values":[0,0.1,0.2,0.3,0.4,0.5],"format":".1~f"}}}},
   {"data":{"values":[{}]},"mark":{"type":"text","text":"σ","font":"Liberation Serif","fontSize":20,"align":"left","baseline":"alphabetic","dx":-8,"dy":-12},"encoding":{"x":{"datum":0,"type":"quantitative","axis":{"title":null,"values":[0,5,10,15,20,25,30]}},"y":{"datum":0.5,"type":"quantitative","axis":{"title":null,"values":[0,0.1,0.2,0.3,0.4,0.5],"format":".1~f"}}}},
   {"data":{"values":[{}]},"mark":{"type":"text","text":"CF,n","font":"Liberation Serif","fontSize":11,"align":"left","baseline":"alphabetic","dx":4,"dy":-9},"encoding":{"x":{"datum":0,"type":"quantitative","axis":{"title":null,"values":[0,5,10,15,20,25,30]}},"y":{"datum":0.5,"type":"quantitative","axis":{"title":null,"values":[0,0.1,0.2,0.3,0.4,0.5],"format":".1~f"}}}}
  ]}
 ],"spacing":29,"title":{"text":"(b)  振動モード形 β=1","orient":"bottom","anchor":"middle","dx":5,"offset":21}}
],"spacing":34,"title":{"text":"(B)  評価時間 1200 秒","orient":"bottom","anchor":"middle","dx":-45,"offset":6}}
],
"spacing":14,
"config":{
 "view":{"stroke":"black","strokeWidth":1.8},
 "axis":{"ticks":false,"domain":false,"labelOverlap":false,"labelFont":"Liberation Serif","labelFontSize":17,"labelColor":"black","gridColor":"#333","gridDash":[3,3],"gridWidth":0.8,"gridOpacity":1},
 "axisX":{"labelPadding":8},
 "axisY":{"labelPadding":6},
 "range":{"category":["#5a5a5a","#000000","#c8c8c8","#9a9a9a"],"symbol":["diamond","square","circle","triangle-up"]},
 "legend":{"orient":"none","legendX":-6,"legendY":-76,"direction":"horizontal","strokeColor":"black","padding":8,"labelFont":"Liberation Serif","labelFontSize":16,"labelColor":"black","symbolSize":90,"symbolStrokeColor":"#333","symbolStrokeWidth":0.7,"columnPadding":14,"labelOffset":5},
 "title":{"font":"Noto Sans CJK JP","fontSize":16,"fontWeight":"normal","color":"black"}
}
}
